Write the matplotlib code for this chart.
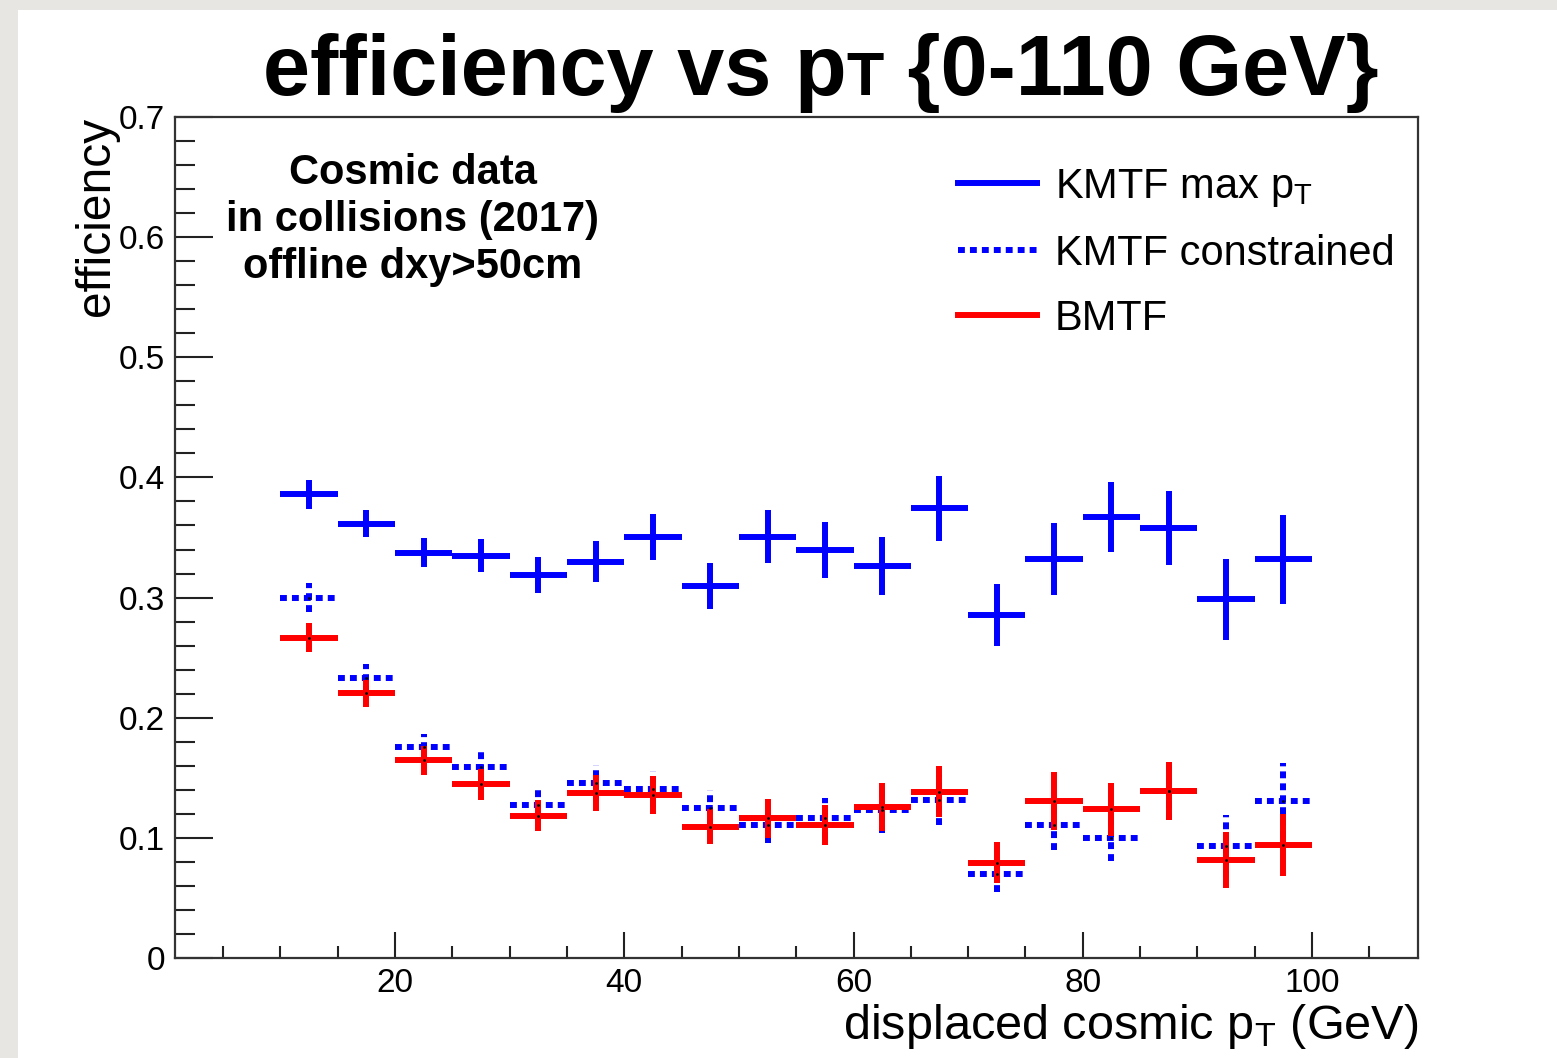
import matplotlib
matplotlib.use("Agg")
import matplotlib.pyplot as plt
from matplotlib.patches import Rectangle
from matplotlib.lines import Line2D
from matplotlib.ticker import MultipleLocator, FuncFormatter

plt.rcParams["font.family"] = ["Liberation Sans", "DejaVu Sans"]
plt.rcParams["mathtext.fontset"] = "custom"
plt.rcParams["mathtext.rm"] = "Liberation Sans"
plt.rcParams["mathtext.it"] = "Liberation Sans"
plt.rcParams["mathtext.bf"] = "Liberation Sans:bold"

# pT bins 10-100 GeV, 5 GeV wide
pt_centres = [12.5, 17.5, 22.5, 27.5, 32.5, 37.5, 42.5, 47.5, 52.5,
              57.5, 62.5, 67.5, 72.5, 77.5, 82.5, 87.5, 92.5, 97.5]
bin_half = 2.5

kmtf_max = [0.386, 0.3615, 0.3375, 0.335, 0.319, 0.330, 0.3505, 0.3095, 0.3505,
            0.3395, 0.326, 0.3745, 0.2855, 0.332, 0.367, 0.358, 0.2985, 0.332]
kmtf_max_err = [0.012, 0.011, 0.012, 0.014, 0.015, 0.017, 0.019, 0.019, 0.022,
                0.023, 0.024, 0.027, 0.026, 0.030, 0.029, 0.031, 0.034, 0.037]

kmtf_con = [0.2998, 0.2327, 0.1753, 0.1587, 0.1273, 0.1459, 0.1406, 0.125, 0.1107,
            0.1162, 0.123, 0.1315, 0.0696, 0.1107, 0.0996, 0.139, 0.0934, 0.1309]
kmtf_con_err = [0.012, 0.012, 0.0115, 0.013, 0.013, 0.015, 0.015, 0.015, 0.015,
                0.017, 0.019, 0.021, 0.015, 0.021, 0.019, 0.024, 0.026, 0.031]

bmtf = [0.2665, 0.2202, 0.1647, 0.1445, 0.1184, 0.137, 0.1356, 0.1092, 0.1162,
        0.1107, 0.1254, 0.1384, 0.0793, 0.1309, 0.1237, 0.139, 0.0815, 0.094]
bmtf_err = [0.012, 0.011, 0.012, 0.013, 0.013, 0.015, 0.016, 0.0145, 0.016,
            0.017, 0.020, 0.021, 0.017, 0.024, 0.022, 0.024, 0.023, 0.026]

BLUE = "#0000ff"
RED = "#ff0000"
LW = 4.3
DOTS = (0, (1.15, 0.85))

fig = plt.figure(figsize=(15.57, 10.58), dpi=100)
fig.patch.set_facecolor("#e8e6e2")
fig.patches.append(Rectangle((18 / 1557, 0), 1, 1 - 10 / 1058, transform=fig.transFigure,
                             facecolor="white", edgecolor="none", zorder=-5))

ax = fig.add_axes([175 / 1557, 1 - 958 / 1058, 1243 / 1557, 841 / 1058])
ax.patch.set_alpha(0)

ax.errorbar(pt_centres, kmtf_max, xerr=bin_half, yerr=kmtf_max_err, fmt="none",
            ecolor=BLUE, elinewidth=LW, capsize=0)
eb2 = ax.errorbar(pt_centres, kmtf_con, xerr=bin_half, yerr=kmtf_con_err, fmt=".",
                  color="black", markersize=2, ecolor=BLUE, elinewidth=LW, capsize=0)
for lc in eb2[2]:
    lc.set_linestyle(DOTS)
    lc.set_capstyle("butt")
ax.errorbar(pt_centres, bmtf, xerr=bin_half, yerr=bmtf_err, fmt=".",
            color="black", markersize=2, ecolor=RED, elinewidth=LW, capsize=0)

ax.set_xlim(0.8, 109.25)
ax.set_ylim(0, 0.7)
ax.xaxis.set_major_locator(MultipleLocator(20))
ax.xaxis.set_minor_locator(MultipleLocator(5))
ax.yaxis.set_major_locator(MultipleLocator(0.1))
ax.yaxis.set_minor_locator(MultipleLocator(0.02))
ax.yaxis.set_major_formatter(FuncFormatter(lambda v, p: f"{v:.1f}" if v > 1e-9 else "0"))
ax.tick_params(which="both", direction="in", top=False, right=False, width=1.5,
               color="#222222", labelsize=24)
ax.tick_params(axis="x", which="major", length=18.7, pad=7)
ax.tick_params(axis="x", which="minor", length=8.6)
ax.tick_params(axis="y", which="major", length=27, pad=7)
ax.tick_params(axis="y", which="minor", length=14.4)
for s in ax.spines.values():
    s.set_linewidth(1.6)
    s.set_color("#333333")

ax.text(1.0, -0.081, "displaced cosmic p$_\\mathrm{T}$ (GeV)", transform=ax.transAxes,
        ha="right", va="center", fontsize=35)
ax.text(-0.063, 1.0, "efficiency", transform=ax.transAxes, rotation=90,
        ha="center", va="top", fontsize=34.5)

ax.text((413 - 175) / 1243, 1 - (220 - 117) / 841,
        "Cosmic data\nin collisions (2017)\noffline dxy>50cm",
        transform=ax.transAxes, ha="center", va="center", fontsize=30, fontweight="bold",
        linespacing=1.22)

# legend
handles = [Line2D([], [], color=BLUE, lw=LW),
           Line2D([], [], color=BLUE, lw=LW, linestyle=DOTS, dash_capstyle="butt"),
           Line2D([], [], color=RED, lw=LW)]
labels = ["KMTF max p$_\\mathrm{T}$", "KMTF constrained", "BMTF"]
ax.legend(handles, labels, loc="upper left",
          bbox_to_anchor=((958 - 175) / 1243, 1 - (167 - 117) / 841),
          frameon=False, fontsize=30, handlelength=1.9, handletextpad=0.42,
          labelspacing=0.6, borderaxespad=0, borderpad=0)

# title: "efficiency vs p" + small "T" + " {0-110 GeV}"
base_y = 1 - 95 / 1058
t1 = fig.text(263 / 1557, base_y, "efficiency vs p", fontsize=61, fontweight="bold",
              va="baseline", ha="left")
t2 = ax.annotate("T", xy=(1, base_y), xycoords=(t1, "figure fraction"),
                 fontsize=44, fontweight="bold", va="baseline", ha="left",
                 annotation_clip=False)
ax.annotate(" {0-110 GeV}", xy=(1, base_y), xycoords=(t2, "figure fraction"),
            fontsize=61, fontweight="bold", va="baseline", ha="left",
            annotation_clip=False)

fig.savefig("out.png", dpi=100, facecolor=fig.get_facecolor())
